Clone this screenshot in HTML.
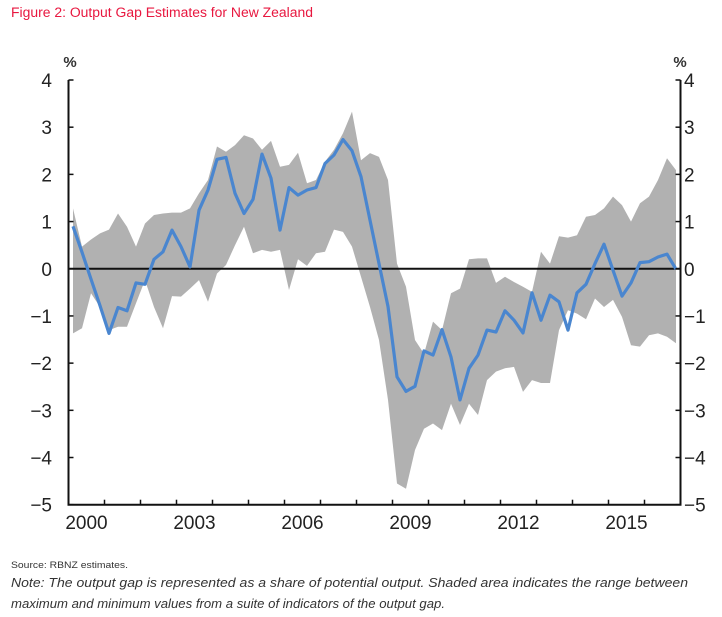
<!DOCTYPE html>
<html><head><meta charset="utf-8"><style>
html,body{margin:0;padding:0;background:#fff;width:722px;height:617px;overflow:hidden}
svg{display:block;font-family:"Liberation Sans",Arial,sans-serif}
</style></head><body>
<svg id="chart" width="722" height="617" viewBox="0 0 722 617" xmlns="http://www.w3.org/2000/svg">
<text x="11" y="17" font-size="13.5" fill="#e8173f" textLength="302" lengthAdjust="spacingAndGlyphs">Figure 2: Output Gap Estimates for New Zealand</text>
<g id="plot"></g>
<text x="11" y="568" font-size="9.5" fill="#333" textLength="117" lengthAdjust="spacingAndGlyphs">Source: RBNZ estimates.</text>
<text x="11" y="587" font-size="13" font-style="italic" fill="#333" textLength="677" lengthAdjust="spacingAndGlyphs">Note: The output gap is represented as a share of potential output. Shaded area indicates the range between</text>
<text x="11" y="608" font-size="13" font-style="italic" fill="#333" textLength="434" lengthAdjust="spacingAndGlyphs">maximum and minimum values from a suite of indicators of the output gap.</text>
</svg>
<script>
const yTicks=[4,3,2,1,0,-1,-2,-3,-4,-5];
const yearLabels=["2000","2003","2006","2009","2012","2015"];
const estimate=[0.9,0.35,-0.22,-0.78,-1.37,-0.82,-0.89,-0.3,-0.33,0.2,0.36,0.82,0.47,0.04,1.24,1.67,2.32,2.36,1.6,1.17,1.47,2.43,1.92,0.82,1.72,1.56,1.67,1.72,2.23,2.41,2.74,2.5,1.95,1.03,0.11,-0.8,-2.29,-2.6,-2.49,-1.74,-1.83,-1.29,-1.87,-2.78,-2.11,-1.83,-1.3,-1.34,-0.89,-1.09,-1.36,-0.51,-1.09,-0.56,-0.7,-1.3,-0.51,-0.33,0.11,0.52,-0.03,-0.58,-0.3,0.13,0.15,0.25,0.31,-0.01];
const upper=[1.28,0.47,0.62,0.75,0.83,1.17,0.89,0.47,0.96,1.14,1.17,1.19,1.19,1.28,1.6,1.88,2.59,2.48,2.62,2.83,2.76,2.52,2.71,2.16,2.2,2.46,1.81,1.88,2.27,2.52,2.87,3.33,2.3,2.45,2.37,1.88,0.11,-0.38,-1.51,-1.8,-1.12,-1.3,-0.52,-0.42,0.2,0.22,0.22,-0.3,-0.17,-0.28,-0.38,-0.49,0.36,0.11,0.69,0.66,0.71,1.1,1.14,1.28,1.53,1.35,1.0,1.39,1.53,1.88,2.34,2.09];
const lower=[-1.37,-1.26,-0.52,-0.81,-1.3,-1.23,-1.23,-0.73,-0.24,-0.81,-1.26,-0.58,-0.59,-0.42,-0.24,-0.7,-0.1,0.08,0.5,0.89,0.33,0.4,0.36,0.4,-0.45,0.2,0.06,0.33,0.36,0.83,0.78,0.47,-0.17,-0.81,-1.51,-2.78,-4.55,-4.66,-3.84,-3.39,-3.28,-3.42,-2.86,-3.31,-2.86,-3.1,-2.36,-2.18,-2.11,-2.08,-2.61,-2.36,-2.42,-2.42,-1.3,-0.88,-0.95,-1.07,-0.63,-0.81,-0.66,-1.02,-1.62,-1.65,-1.41,-1.37,-1.44,-1.58];
const startYear=2000, endYear=2017;
const L=68.5,R=680.5,Y4=80,Yn5=504.7;
function xs(t){return L+(t-startYear)*(R-L)/(endYear-startYear);}
function ys(v){return Y4+(4-v)*(Yn5-Y4)/9;}
function tq(i){return startYear+i*0.25+0.125;}
const NS="http://www.w3.org/2000/svg";
const g=document.getElementById('plot');
function mk(tag,attrs){const e=document.createElementNS(NS,tag);for(const k in attrs)e.setAttribute(k,attrs[k]);g.appendChild(e);return e;}
// band
let d="";
upper.forEach((v,i)=>{d+=(i?"L":"M")+xs(tq(i)).toFixed(1)+","+ys(v).toFixed(1);});
for(let i=lower.length-1;i>=0;i--){d+="L"+xs(tq(i)).toFixed(1)+","+ys(lower[i]).toFixed(1);}
const band=mk('path',{d:d+"Z",fill:"#b1b1b1"});


// zero line
const z=mk('line',{x1:L,x2:R,y1:ys(0),y2:ys(0),stroke:"#111","stroke-width":2});


// series line
let p="";
estimate.forEach((v,i)=>{p+=(i?"L":"M")+xs(tq(i)).toFixed(1)+","+ys(v).toFixed(1);});
const ln=mk('path',{d:p,fill:"none",stroke:"#4a86cf","stroke-width":3.2,"stroke-linejoin":"round"});


// axes
const la=mk('line',{x1:L,x2:L,y1:ys(4),y2:ys(-5),stroke:"#111","stroke-width":2});


const ra=mk('line',{x1:R,x2:R,y1:ys(4),y2:ys(-5),stroke:"#111","stroke-width":2});


const xa=mk('line',{x1:L-1,x2:R+1,y1:ys(-5),y2:ys(-5),stroke:"#111","stroke-width":2});


yTicks.forEach(v=>{
  const y=ys(v);
  mk('line',{x1:L,x2:L+5,y1:y,y2:y,stroke:"#111","stroke-width":1.5});
  mk('line',{x1:R-5,x2:R,y1:y,y2:y,stroke:"#111","stroke-width":1.5});
  const lab=v<0?"\u2212"+(-v):String(v);
  const t1=mk('text',{x:52,y:y+7,"font-size":19,"text-anchor":"end",fill:"#222"});t1.textContent=lab;
  
  
  const t2=mk('text',{x:684,y:y+7,"font-size":19,fill:"#222"});t2.textContent=lab;
  
  
});
for(let yr=startYear+1;yr<endYear;yr++){
  mk('line',{x1:xs(yr),x2:xs(yr),y1:ys(-5)-5,y2:ys(-5),stroke:"#111","stroke-width":1.5});
}
yearLabels.forEach(s=>{
  const t=mk('text',{x:xs(+s+0.5),y:529,"font-size":19,"text-anchor":"middle",fill:"#222"});t.textContent=s;
  
  
});
const pl=mk('text',{x:70,y:67,"font-size":15,"font-weight":"bold","text-anchor":"middle",fill:"#333"});pl.textContent="%";


const pr=mk('text',{x:680,y:67,"font-size":15,"font-weight":"bold","text-anchor":"middle",fill:"#333"});pr.textContent="%";


</script>
</body></html>
